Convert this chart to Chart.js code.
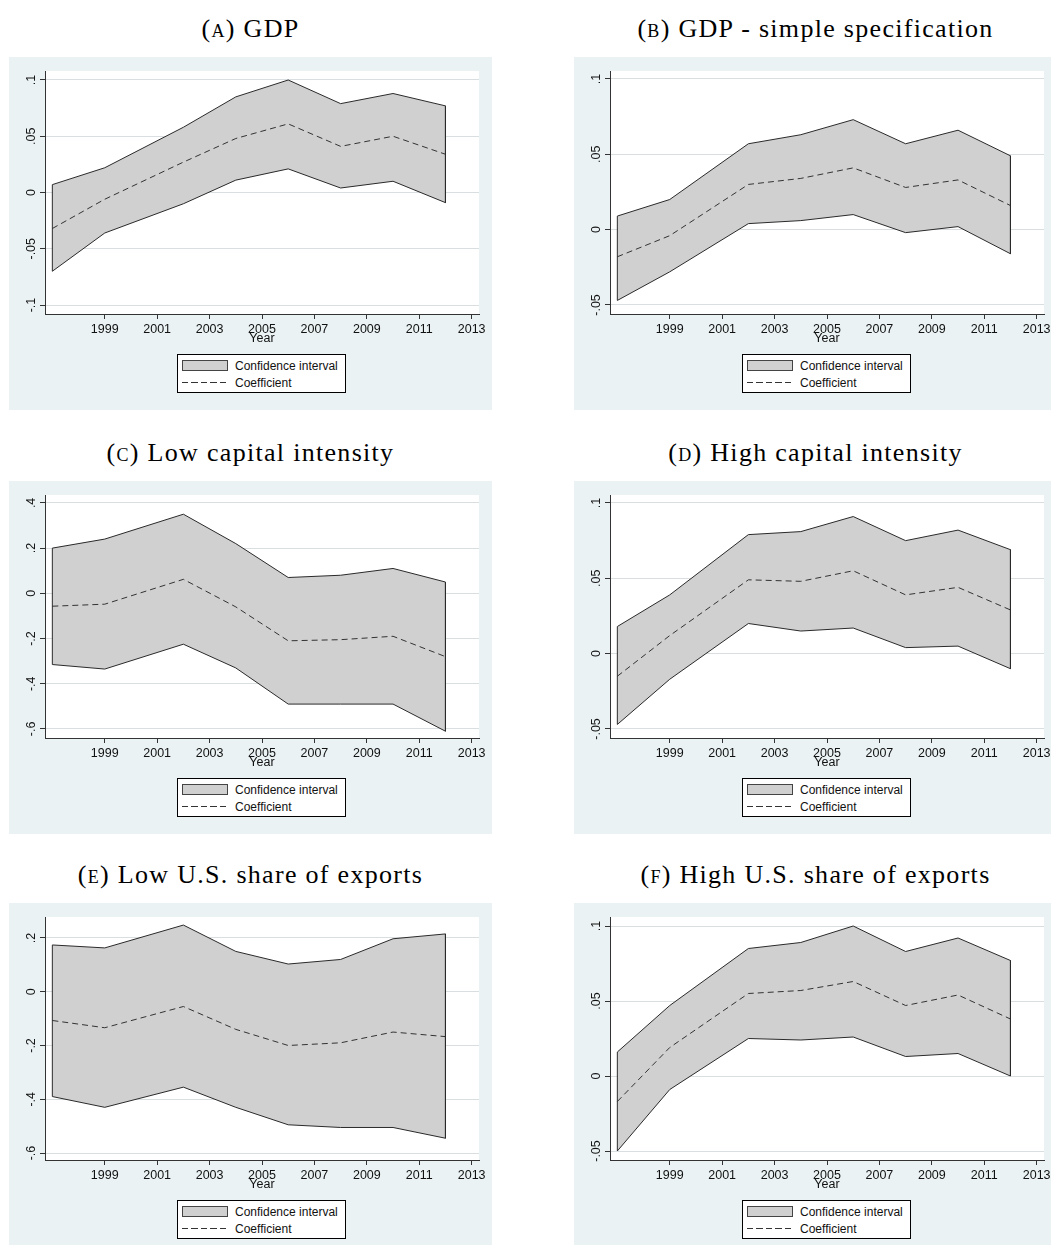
<!DOCTYPE html>
<html>
<head>
<meta charset="utf-8">
<script src="https://cdn.jsdelivr.net/npm/chart.js@4.4.1/dist/chart.umd.min.js"></script>
<style>
  html, body { margin: 0; padding: 0; background: #fff; overflow: hidden; }
  body { width: 1051px; height: 1245px; position: relative; }
  .title { position: absolute; width: 483px; text-align: center; font-family: 'Liberation Serif', serif;
           font-size: 26px; line-height: 26px; color: #000; letter-spacing: 1.3px; white-space: nowrap; }
  .title .sc { font-variant: small-caps; }
  .panel { position: absolute; width: 483px; height: 353px; background: #EAF2F3; }
  .panel canvas { position: absolute; left: 0; top: 0; }
  .legend { position: absolute; left: 168px; top: 297px; width: 167px; height: 37px; border: 1px solid #000;
            background: #fff; font-family: 'Liberation Sans', Arial, sans-serif; font-size: 12px; color: #111; }
  .legend .txt { position: absolute; left: 57px; height: 14px; line-height: 14px; white-space: nowrap; }
  .legend .swatch { position: absolute; left: 4px; top: 5px; width: 44px; height: 9px; background: #D0D0D0; border: 1px solid #444; }
  .legend .dash { position: absolute; left: 4px; top: 27px; width: 46px; height: 1px;
                  background: repeating-linear-gradient(to right, #333 0 6px, transparent 6px 9.5px); }
</style>
</head>
<body>
<script>
// years with an estimate, and the labelled ticks on the x axis
const years = [1997, 1999, 2002, 2004, 2006, 2008, 2010, 2012];
const xTicks = [1999, 2001, 2003, 2005, 2007, 2009, 2011, 2013];
const legendLabels = ['Confidence interval', 'Coefficient'];

// (a) GDP
const gdpUpper = [0.007, 0.022, 0.058, 0.085, 0.100, 0.079, 0.088, 0.077];
const gdpCoef  = [-0.032, -0.006, 0.027, 0.048, 0.061, 0.041, 0.050, 0.034];
const gdpLower = [-0.070, -0.036, -0.010, 0.011, 0.021, 0.004, 0.010, -0.009];
const gdpTicks = [-0.1, -0.05, 0, 0.05, 0.1];

// (b) GDP - simple specification
const simpleUpper = [0.009, 0.020, 0.057, 0.063, 0.073, 0.057, 0.066, 0.049];
const simpleCoef  = [-0.018, -0.004, 0.030, 0.034, 0.041, 0.028, 0.033, 0.016];
const simpleLower = [-0.047, -0.028, 0.004, 0.006, 0.010, -0.002, 0.002, -0.016];
const simpleTicks = [-0.05, 0, 0.05, 0.1];

// (c) Low capital intensity
const lowCapUpper = [0.20, 0.24, 0.35, 0.22, 0.07, 0.08, 0.11, 0.05];
const lowCapCoef  = [-0.057, -0.048, 0.062, -0.06, -0.21, -0.205, -0.19, -0.28];
const lowCapLower = [-0.315, -0.335, -0.225, -0.33, -0.49, -0.49, -0.49, -0.61];
const lowCapTicks = [-0.6, -0.4, -0.2, 0, 0.2, 0.4];

// (d) High capital intensity
const highCapUpper = [0.018, 0.039, 0.079, 0.081, 0.091, 0.075, 0.082, 0.069];
const highCapCoef  = [-0.015, 0.012, 0.049, 0.048, 0.055, 0.039, 0.044, 0.029];
const highCapLower = [-0.047, -0.017, 0.020, 0.015, 0.017, 0.004, 0.005, -0.010];
const highCapTicks = [-0.05, 0, 0.05, 0.1];

// (e) Low U.S. share of exports
const lowUsUpper = [0.174, 0.163, 0.248, 0.150, 0.103, 0.120, 0.197, 0.215];
const lowUsCoef  = [-0.107, -0.134, -0.055, -0.14, -0.20, -0.19, -0.15, -0.167];
const lowUsLower = [-0.39, -0.43, -0.355, -0.43, -0.495, -0.505, -0.505, -0.545];
const lowUsTicks = [-0.6, -0.4, -0.2, 0, 0.2];

// (f) High U.S. share of exports
const highUsUpper = [0.016, 0.047, 0.085, 0.089, 0.100, 0.083, 0.092, 0.077];
const highUsCoef  = [-0.017, 0.019, 0.055, 0.057, 0.063, 0.047, 0.054, 0.038];
const highUsLower = [-0.050, -0.009, 0.025, 0.024, 0.026, 0.013, 0.015, 0.000];
const highUsTicks = [-0.05, 0, 0.05, 0.1];

const panels = [
  { sc: '(a)', title: 'GDP', left: 9, top: 57, upper: gdpUpper, coef: gdpCoef, lower: gdpLower, ticks: gdpTicks, min: -0.108, max: 0.108 },
  { sc: '(b)', title: 'GDP - simple specification', left: 574, top: 57, upper: simpleUpper, coef: simpleCoef, lower: simpleLower, ticks: simpleTicks, min: -0.056, max: 0.1053 },
  { sc: '(c)', title: 'Low capital intensity', left: 9, top: 481, upper: lowCapUpper, coef: lowCapCoef, lower: lowCapLower, ticks: lowCapTicks, min: -0.64, max: 0.435 },
  { sc: '(d)', title: 'High capital intensity', left: 574, top: 481, upper: highCapUpper, coef: highCapCoef, lower: highCapLower, ticks: highCapTicks, min: -0.056, max: 0.1053 },
  { sc: '(e)', title: 'Low U.S. share of exports', left: 9, top: 903, upper: lowUsUpper, coef: lowUsCoef, lower: lowUsLower, ticks: lowUsTicks, min: -0.626, max: 0.278 },
  { sc: '(f)', title: 'High U.S. share of exports', left: 574, top: 903, upper: highUsUpper, coef: highUsCoef, lower: highUsLower, ticks: highUsTicks, min: -0.056, max: 0.106 }
];

const LINE = '#2a2a2a';
const FILL = '#D0D0D0';
const AXIS = '#333';
const TEXT = '#111';
const SANS = "'Liberation Sans', Arial, sans-serif";

// Stata style labels: .05, -.1, 0
function stataLabel(v) {
  if (Math.abs(v) < 1e-9) return '0';
  return String(+v.toFixed(3)).replace(/^(-?)0\./, '$1.');
}

// white plot region inside the blue-grey graph region
const plotBackground = {
  id: 'plotBackground',
  beforeDraw(chart) {
    const { ctx, chartArea } = chart;
    ctx.save();
    ctx.fillStyle = '#fff';
    ctx.fillRect(chartArea.left, chartArea.top, chartArea.right - chartArea.left, chartArea.bottom - chartArea.top);
    ctx.restore();
  }
};

// y tick labels turned 90 degrees, as Stata draws them
const verticalTicks = {
  id: 'verticalTicks',
  afterDraw(chart) {
    const { ctx } = chart;
    const scale = chart.scales.y;
    ctx.save();
    ctx.fillStyle = TEXT;
    ctx.font = '12.5px ' + SANS;
    ctx.textAlign = 'center';
    ctx.textBaseline = 'middle';
    scale.ticks.forEach(t => {
      ctx.save();
      ctx.translate(scale.right - 13, scale.getPixelForValue(t.value));
      ctx.rotate(-Math.PI / 2);
      ctx.fillText(stataLabel(t.value), 0, 0);
      ctx.restore();
    });
    ctx.restore();
  }
};

const pts = arr => years.map((x, i) => ({ x: x, y: arr[i] }));

panels.forEach(p => {
  const title = document.createElement('div');
  title.className = 'title';
  title.style.left = p.left + 'px';
  title.style.top = (p.top - 41) + 'px';
  title.innerHTML = '<span class="sc">' + p.sc + '</span> ' + p.title;
  document.body.appendChild(title);

  const box = document.createElement('div');
  box.className = 'panel';
  box.style.left = p.left + 'px';
  box.style.top = p.top + 'px';
  const canvas = document.createElement('canvas');
  canvas.width = 483;
  canvas.height = 353;
  box.appendChild(canvas);

  const legend = document.createElement('div');
  legend.className = 'legend';
  legend.innerHTML = '<div class="swatch"></div><div class="txt" style="top:4px">' + legendLabels[0] + '</div>' +
    '<div class="dash"></div><div class="txt" style="top:21px">' + legendLabels[1] + '</div>';
  box.appendChild(legend);
  document.body.appendChild(box);

  const last = years.length - 1;

  new Chart(canvas.getContext('2d'), {
    type: 'line',
    data: {
      datasets: [
        { label: 'lower', data: pts(p.lower), borderColor: LINE, borderWidth: 1, fill: false },
        { label: legendLabels[0], data: pts(p.upper), borderColor: LINE, borderWidth: 1, backgroundColor: FILL, fill: '-1' },
        {
          label: 'edges',
          data: [
            { x: years[0], y: p.lower[0] }, { x: years[0], y: p.upper[0] },
            { x: years[last], y: null },
            { x: years[last], y: p.upper[last] }, { x: years[last], y: p.lower[last] }
          ],
          borderColor: LINE, borderWidth: 1, fill: false
        },
        { label: legendLabels[1], data: pts(p.coef), borderColor: '#333', borderWidth: 1, borderDash: [6, 4], fill: false }
      ]
    },
    options: {
      responsive: false,
      animation: false,
      layout: { padding: { left: 0, top: 14, right: 13, bottom: 65 } },
      elements: { point: { radius: 0 }, line: { tension: 0 } },
      plugins: {
        legend: { display: false },
        tooltip: { enabled: false },
        filler: { drawTime: 'beforeDatasetsDraw' }
      },
      scales: {
        x: {
          type: 'linear',
          min: 1996.72,
          max: 2013.28,
          afterBuildTicks: s => { s.ticks = xTicks.map(v => ({ value: v })); },
          afterFit: s => { s.height = 31; s.paddingLeft = 0; s.paddingRight = 0; },
          grid: { drawOnChartArea: false, tickLength: 5, tickColor: AXIS },
          border: { color: AXIS },
          ticks: {
            autoSkip: false, maxRotation: 0, padding: 3, color: TEXT,
            font: { family: SANS, size: 12.5 },
            callback: v => String(v)
          },
          title: {
            display: true, text: 'Year', color: TEXT,
            padding: { top: 0, bottom: 0 },
            font: { family: SANS, size: 12.5, lineHeight: 1 }
          }
        },
        y: {
          min: p.min,
          max: p.max,
          afterBuildTicks: s => { s.ticks = p.ticks.map(v => ({ value: v })); },
          afterFit: s => { s.width = 36; s.paddingTop = 0; s.paddingBottom = 0; },
          grid: { color: '#D9DEE0', tickLength: 5, tickColor: AXIS },
          border: { color: AXIS },
          ticks: { display: false }
        }
      }
    },
    plugins: [plotBackground, verticalTicks]
  });
});
</script>
</body>
</html>
